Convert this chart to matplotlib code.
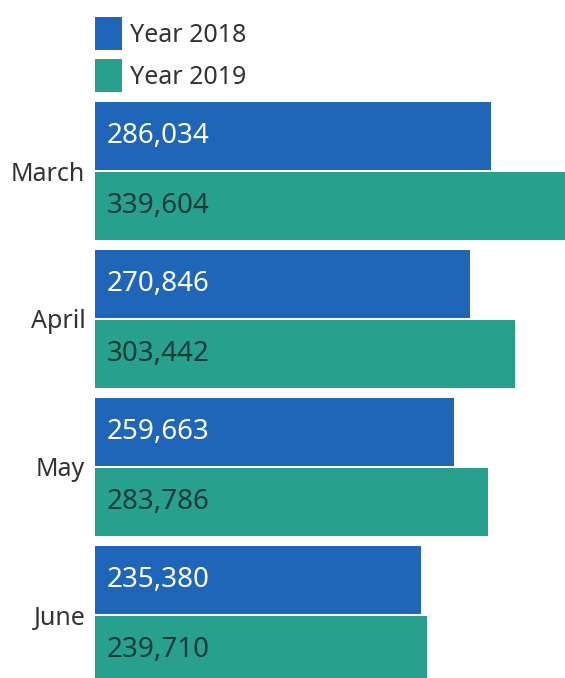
import matplotlib
matplotlib.use('Agg')
import matplotlib.pyplot as plt
import numpy as np

months = ['March', 'April', 'May', 'June']
year_2018 = [286034, 270846, 259663, 235380]
year_2019 = [339604, 303442, 283786, 239710]
series_names = ['Year 2018', 'Year 2019']

blue = '#1f66b9'
teal = '#27a08e'

plt.rcParams['font.family'] = ['Noto Sans', 'DejaVu Sans']

W, H = 565, 678
fig = plt.figure(figsize=(W / 100, H / 100), dpi=100)
# axes from bar start (x=95px) to the right edge, full height
ax = fig.add_axes([95 / W, 0, 1 - 95 / W, 1])

pos = np.arange(len(months))
h = 0.46
off = 0.237

b1 = ax.barh(pos - off, year_2018, height=h, color=blue, label=series_names[0])
b2 = ax.barh(pos + off, year_2019, height=h, color=teal, label=series_names[1])

for bar, v in zip(b1, year_2018):
    ax.annotate(f'{v:,}', (0, bar.get_y() + bar.get_height() / 2),
                xytext=(12, 0), textcoords='offset pixels',
                ha='left', va='center', fontsize=20, color='white')
for bar, v in zip(b2, year_2019):
    ax.annotate(f'{v:,}', (0, bar.get_y() + bar.get_height() / 2),
                xytext=(12, 0), textcoords='offset pixels',
                ha='left', va='center', fontsize=20, color='#173b37')

ax.set_xlim(0, max(year_2019))
ax.set_ylim((H - 171) / 148, -171 / 148)

ax.set_yticks(pos)
ax.set_yticklabels(months, fontsize=18, color='#333333')
ax.tick_params(axis='y', length=0, pad=7)
ax.set_xticks([])
for s in ax.spines.values():
    s.set_visible(False)

ax.legend(loc='upper left', bbox_to_anchor=(0, 1 - 17 / H), frameon=False,
          fontsize=18, handlelength=1.08, handleheight=1.65, labelspacing=0.36,
          handletextpad=0.32, borderpad=0, borderaxespad=0, labelcolor='#333333')

fig.savefig('out.png', dpi=100)
